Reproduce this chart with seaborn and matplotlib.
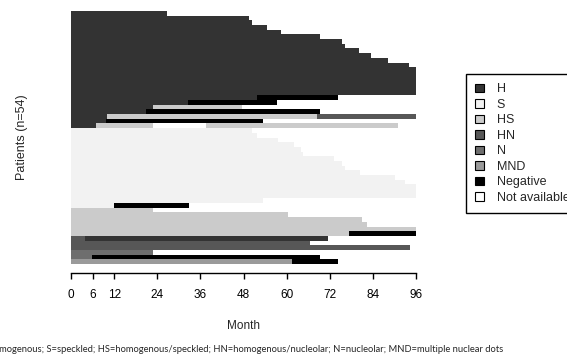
import pandas as pd
import matplotlib.pyplot as plt
import seaborn as sns
from matplotlib.patches import Patch

sns.set_style('white')
plt.rcParams['font.family'] = ['Liberation Sans', 'DejaVu Sans']

# Pattern categories and their grey shades
status_names = ['H', 'S', 'HS', 'HN', 'N', 'MND', 'Negative', 'Not available']
status_colors = ['#333333', '#f2f2f2', '#cbcbcb', '#575757', '#6e6e6e', '#9a9a9a', '#000000', '#ffffff']

# Each patient: list of (pattern, month at end of segment), read top to bottom
h_only_ends = [26.7, 49.6, 50.5, 54.4, 58.5, 69.3, 75.3, 76.2, 80.0, 83.4, 88.3, 94.0,
               96, 96, 96, 96, 96, 96]
h_rows = [
    [('H', 51.7), ('Negative', 74.4)],
    [('H', 32.6), ('Negative', 57.4)],
    [('H', 22.7), ('HS', 47.5)],
    [('H', 20.8), ('Negative', 69.3)],
    [('H', 10.0), ('HS', 68.4), ('HN', 96)],
    [('H', 9.8), ('Negative', 53.5)],
    [('H', 6.9), ('HS', 22.7), ('Not available', 37.7), ('HS', 91.1)],
]
s_only_ends = [50.5, 51.7, 57.5, 62.0, 64.0, 64.6, 73.3, 75.3, 76.2, 80.4, 90.1, 93.0,
               96, 96, 96]
s_rows = [
    [('S', 53.5), ('Not available', 96)],
    [('S', 12.0), ('Negative', 32.8)],
]
hs_rows = [
    [('HS', 22.9)],
    [('HS', 60.5)],
    [('HS', 80.9)],
    [('HS', 82.3)],
    [('HS', 96)],
    [('HS', 77.4), ('Negative', 96)],
]
other_rows = [
    [('HN', 3.9), ('H', 71.6)],
    [('HN', 66.5)],
    [('HN', 94.3)],
    [('N', 22.9)],
    [('N', 5.8), ('Negative', 69.3)],
    [('MND', 61.4), ('Negative', 74.4)],
]

rows = ([[('H', e)] for e in h_only_ends] + h_rows +
        [[('S', e)] for e in s_only_ends] + s_rows + hs_rows + other_rows)
patients = ['p%d' % i for i in range(len(rows))]

records = []
for pid, segs in zip(patients, rows):
    for k, (status, end) in enumerate(segs):
        records.append({'patient': pid, 'layer': k, 'status': status, 'end': min(end, 96)})
df = pd.DataFrame(records)

fig = plt.figure(figsize=(5.67, 3.55), dpi=100)
ax = fig.add_axes([71 / 567, 91 / 355, 345 / 567, 253 / 355])

palette = dict(zip(status_names, status_colors))
# later segments first, earlier ones painted over them
for k in sorted(df['layer'].unique(), reverse=True):
    layer = df[df['layer'] == k]
    sns.barplot(data=layer, x='end', y='patient', hue='status', order=patients,
                hue_order=status_names, palette=palette, orient='h', width=1,
                dodge=False, saturation=1, errorbar=None, legend=False,
                linewidth=0, edgecolor='none', ax=ax)

ax.set_xlim(0, 96)
ax.set_ylim(len(patients) - 0.5, -0.5)
ax.set_yticks([])
ax.set_xticks([0, 6, 12, 24, 36, 48, 60, 72, 84, 96])
ax.tick_params(axis='x', direction='out', length=4.5, width=1, pad=7,
               labelsize=8.5, colors='black', bottom=True)
for side in ['top', 'right', 'left']:
    ax.spines[side].set_visible(False)
ax.spines['bottom'].set_position(('outward', 6.5))
ax.spines['bottom'].set_bounds(0, 96)
ax.spines['bottom'].set_color('black')
ax.spines['bottom'].set_linewidth(1)
ax.set_xlabel('Month', fontsize=8.5, labelpad=14)
ax.set_ylabel('')
fig.text(22 / 567, 1 - 137 / 355, 'Patients (n=54)', rotation=90, fontsize=9,
         ha='center', va='center')

handles = [Patch(facecolor=c, edgecolor='black', linewidth=0.8) for c in status_colors]
fig.legend(handles, status_names, loc='upper left', bbox_to_anchor=(466 / 567, 1 - 74 / 355),
           bbox_transform=fig.transFigure, fontsize=9, frameon=True, fancybox=False,
           edgecolor='black', framealpha=1, borderpad=0.75, labelspacing=0.28,
           handlelength=0.7, handleheight=0.7, handletextpad=1.0, borderaxespad=0)

fig.text(503 / 567, 1 - 350 / 355,
         'H=homogenous; S=speckled; HS=homogenous/speckled; HN=homogenous/nucleolar; '
         'N=nucleolar; MND=multiple nuclear dots',
         family=['Lato', 'DejaVu Sans'], fontsize=6.75, ha='right', va='center')

fig.savefig('out.png', dpi=100)
